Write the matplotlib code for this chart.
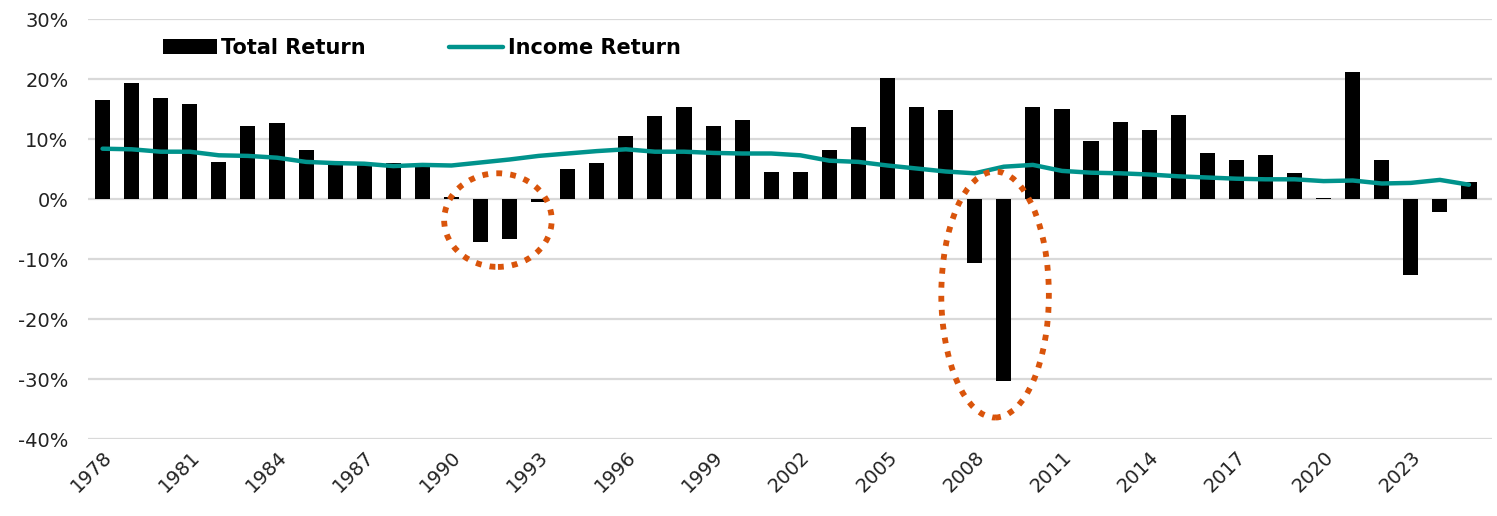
import numpy as np
from matplotlib import pyplot as plt
from matplotlib.patches import Ellipse

years = list(range(1978, 2026))
total_return = [16.5, 19.4, 16.9, 15.8, 6.2, 12.2, 12.6, 8.2, 5.9, 5.8,
                6.1, 5.4, 0.3, -7.2, -6.6, -0.4, 5.0, 6.0, 10.5, 13.9,
                15.3, 12.1, 13.2, 4.6, 4.5, 8.2, 12.0, 20.2, 15.3, 14.8,
                -10.7, -30.3, 15.3, 15.0, 9.7, 12.9, 11.5, 14.0, 7.7, 6.6,
                7.3, 4.3, 0.2, 21.1, 6.5, -12.7, -2.2, 2.9]
income_return = [8.4, 8.3, 7.9, 7.9, 7.3, 7.2, 6.9, 6.2, 6.0, 5.9,
                 5.5, 5.7, 5.6, 6.1, 6.6, 7.2, 7.6, 8.0, 8.3, 7.9,
                 7.9, 7.7, 7.6, 7.6, 7.3, 6.4, 6.2, 5.6, 5.1, 4.6,
                 4.3, 5.4, 5.7, 4.7, 4.4, 4.3, 4.1, 3.8, 3.6, 3.4,
                 3.3, 3.3, 3.0, 3.1, 2.6, 2.7, 3.2, 2.4]
yticks = [30, 20, 10, 0, -10, -20, -30, -40]

# highlighted downturns: (center year, center %, width in years, height in %)
highlights = [(1991.6, -3.5, 3.7, 15.6), (2008.7, -15.9, 3.7, 41.0)]

teal = "#00938c"
orange = "#d9540b"

fig = plt.figure(figsize=(14.97, 5.16), dpi=100)
ax = fig.add_axes([0.0588, 0.149, 0.938, 0.814])

x = np.array(years)
bars = ax.bar(x, total_return, width=0.52, color="black", label="Total Return", zorder=2)
line, = ax.plot(x, income_return, color=teal, lw=3.2, label="Income Return", zorder=3,
                solid_capstyle="round")

for cx, cy, w, h in highlights:
    e = Ellipse((cx, cy), w, h, fill=False, edgecolor=orange, lw=4.2,
                linestyle=(0, (1.0, 1.4)), zorder=4)
    ax.add_patch(e)

ax.set_ylim(-40, 30)
ax.set_xlim(1978 - 0.5, 2025 + 0.8)
ax.set_yticks(yticks)
ax.set_yticklabels([f"{v}%" for v in yticks], fontsize=14, color="#222222")
ax.set_xticks(years[::3])
ax.set_xticklabels([str(y) for y in years[::3]], rotation=45, ha="right",
                   rotation_mode="anchor", fontsize=14, color="#222222")
ax.tick_params(axis="both", length=0)
ax.tick_params(axis="x", pad=6)
ax.tick_params(axis="y", pad=14)
ax.grid(axis="y", color="#d9d9d9", lw=1.6, zorder=0)
for s in ax.spines.values():
    s.set_visible(False)

ax.legend([bars, line], ["Total Return", "Income Return"],
          loc="upper left", bbox_to_anchor=(0.04, 1.0), ncol=2, frameon=False,
          prop={"weight": "bold", "size": 15}, handlelength=2.6,
          handletextpad=0.2, columnspacing=4.0)

fig.savefig("out.png", dpi=100)
